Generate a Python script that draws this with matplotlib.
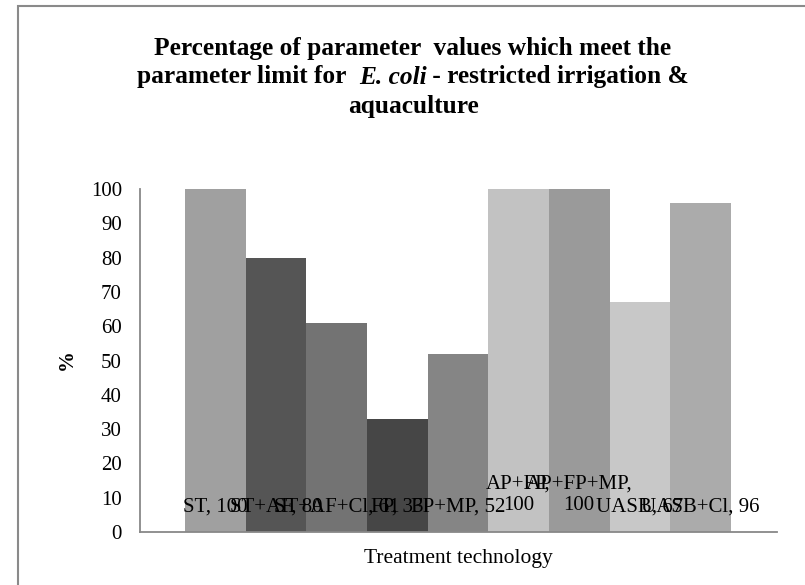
import matplotlib.pyplot as plt
from matplotlib.patches import Rectangle

# data
techs = ["ST", "ST+AF", "ST+AF+Cl", "FP", "FP+MP", "AP+FP", "AP+FP+MP", "UASB", "UASB+Cl"]
percent = [100, 80, 61, 33, 52, 100, 100, 67, 96]
bar_colors = ["#a0a0a0", "#555555", "#737373", "#464646", "#858585",
              "#c2c2c2", "#9a9a9a", "#c8c8c8", "#ababab"]
# labels that Excel wrapped onto two lines
wrapped = ["AP+FP", "AP+FP+MP"]
yticks = list(range(0, 101, 10))

plt.rcParams['font.family'] = ['Liberation Serif', 'DejaVu Serif']

W, H = 805, 585
fig = plt.figure(figsize=(W / 100, H / 100), dpi=100)
# plot area in pixels: x 140..777, y 189..532
ax = fig.add_axes([140 / W, 1 - 532 / H, 637 / W, 343 / H])

for i in range(len(techs)):
    ax.bar(i, percent[i], width=1.0, color=bar_colors[i], edgecolor='none')
    if techs[i] in wrapped:
        ax.text(i, 10.8, techs[i] + ",\n" + str(percent[i]), ha='center',
                va='center', fontsize=15, linespacing=1.15)
    else:
        ax.text(i, 7.3, techs[i] + ", " + str(percent[i]), ha='center',
                va='center', fontsize=15)

ax.set_xlim(-1.24, 9.26)
ax.set_ylim(0, 100)
ax.set_yticks(yticks)
ax.set_xticks([])
ax.tick_params(axis='y', length=0, pad=13, labelsize=15)
for s in ['top', 'right']:
    ax.spines[s].set_visible(False)
for s in ['left', 'bottom']:
    ax.spines[s].set_color('#888888')
    ax.spines[s].set_linewidth(1.3)

# axis titles
fig.text(67 / W, 1 - 360 / H, "%", rotation=90, ha='center', va='center',
         fontsize=15, fontweight='bold')
fig.text(458 / W, 1 - 558 / H, "Treatment technology", ha='center',
         va='center', fontsize=15.5)

# title, middle line has the italic species name
tsize = 18.3
tx = 413 / W
fig.text(tx, 1 - 48 / H, "Percentage of parameter  values which meet the",
         ha='center', va='center', fontsize=tsize, fontweight='bold')
fig.text(tx, 1 - 106 / H, "aquaculture", ha='center', va='center',
         fontsize=tsize, fontweight='bold')

parts = [("parameter limit for  ", 'normal'), ("E. coli", 'italic'),
         (" - restricted irrigation &", 'normal')]
pieces = []
for txt, st in parts:
    pieces.append(fig.text(0, 1 - 77 / H, txt, ha='left', va='center',
                           fontsize=tsize, fontweight='bold', style=st))
fig.canvas.draw()
r = fig.canvas.get_renderer()
widths = [p.get_window_extent(r).width / fig.bbox.width for p in pieces]
x = tx - sum(widths) / 2
for p, w in zip(pieces, widths):
    p.set_x(x)
    x += w

# chart area border (right and bottom edges fall outside the picture)
fig.patches.append(Rectangle((18 / W, -0.05), 1.1, 1 - 6 / H + 0.05,
                             transform=fig.transFigure, fill=False,
                             edgecolor='#8a8a8a', linewidth=1.5))

fig.savefig('out.png', dpi=100)
